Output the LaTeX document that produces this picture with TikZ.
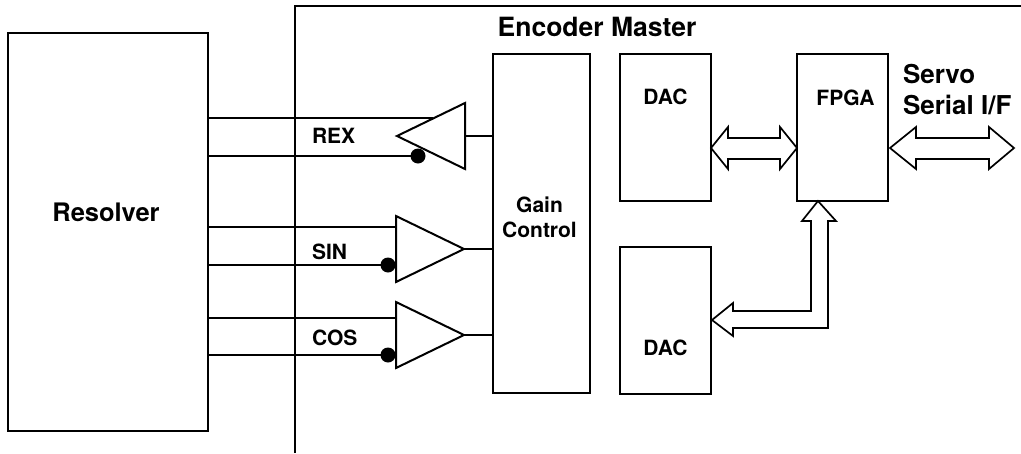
\documentclass[tikz,border=0pt]{standalone}
\usepackage{fontspec}
\setmainfont{TeX Gyre Heros}
\usetikzlibrary{
  calc,
  positioning,
  shapes.geometric,
}

\begin{document}
\begin{tikzpicture}[
    x = 1pt,
    y = -1pt,
    line width=2pt,
    n/.style={
      draw, minimum width=91pt, minimum height=147pt,
      inner sep=0pt, outer sep=0pt,
    },
    amp/.style={
      draw, isosceles triangle, isosceles triangle stretches,
      minimum width=66pt, minimum height=68pt,
      inner sep=0pt, outer sep=0pt,
    },
    d/.style={
      circle, fill, minimum size=15pt, inner sep=0pt, outer sep=0pt,
    },
    bus/.style={line width=1.7pt, line join=miter, fill=white},
    b/.style={font=\fontsize{21}{25}\selectfont\bfseries, inner sep=0pt},
    c/.style={font=\fontsize{26}{31}\selectfont\bfseries, inner sep=0pt,
      align=left},]
  \useasboundingbox (0,0) rectangle (1021,453);
  %%
  \node[n,minimum width=200pt,minimum height=398pt,anchor=north west]
  (Resolver) at (8,33) {};
  \node[n,anchor=north west] (DacA) at (620,54) {};
  \node[n,below=46pt of DacA] (DacB) {};
  \node[n,right=86pt of DacA] (Fpga) {};
  \node[n,left=30pt of DacA.north west,anchor=north east,
  minimum width=97pt,minimum height=339pt] (Gain) {};
  %%
  \node[b,font=\fontsize{25.5}{30}\selectfont\bfseries]
  (ResolverText) at ($(Resolver.north)+(-2,179)$) {Resolver};
  \node[b,align=center] (GainText) at ($(Gain.center)+(-2,-6)$)
  {Gain\\[0.5pt]Control};
  \node[b] (DacAText) at ($(DacA.north)+(0,43)$) {DAC};
  \node[b] (DacBText) at ($(DacB.north)+(0,101)$) {DAC};
  \node[b] (FpgaText) at ($(Fpga.north)+(3,44)$) {FPGA};
  \node[c,font=\fontsize{26.5}{31}\selectfont\bfseries]
  (EncoderText) at (597,27) {Encoder Master};
  \node[c,anchor=west] (ServoText) at (902,90) {Servo\\Serial I/F};
  %%
  \node[amp,shape border rotate=180,anchor=apex] (AmpRex) at (397,136) {};
  \node[amp,anchor=apex] (AmpSin) at (464,249) {};
  \node[amp,anchor=apex] (AmpCos) at (464,335) {};
  %%
  \node[b,anchor=west] (RexText) at (311,136) {REX};
  \node[b,anchor=west] (SinText) at (311,252) {SIN};
  \node[b,anchor=west] (CosText) at (311,338) {COS};
  %%
  \node[d] (DotRex) at (418,156) {};
  \node[d] (DotSin) at (388,265) {};
  \node[d] (DotCos) at (388,355) {};
  %%
  \coordinate (InRex) at (433,118);
  \coordinate (InSin) at (396,227);
  \coordinate (InCos) at (396,318);
  \draw (Resolver.east |- InRex) -- (InRex);
  \draw (Resolver.east |- DotRex) -- (DotRex);
  \draw (Resolver.east |- InSin) -- (InSin);
  \draw (Resolver.east |- DotSin) -- (DotSin);
  \draw (Resolver.east |- InCos) -- (InCos);
  \draw (Resolver.east |- DotCos) -- (DotCos);
  %%
  \draw (AmpRex.lower side) -- (Gain.west |- AmpRex.lower side);
  \draw (AmpSin.apex) -- (Gain.west |- AmpSin.apex);
  \draw (AmpCos.apex) -- (Gain.west |- AmpCos.apex);
  %%
  \coordinate (FrameA) at (295,453);
  \coordinate (FrameB) at (295,6);
  \coordinate (FrameC) at (1021,6);
  \draw (FrameA) -- (FrameB) -- (FrameC);
  %%
  \coordinate (BusA) at (711,148);
  \draw[bus] (DacA.east |- BusA)
  -- ++(17,-21) -- ++(0,11) -- ($(Fpga.west |- BusA)+(-17,-10)$)
  -- ++(0,-11) -- (Fpga.west |- BusA) -- ++(-17,21) -- ++(0,-10)
  -- ($(DacA.east |- BusA)+(17,11)$) -- ++(0,10) -- cycle;
  %%
  \coordinate (BusB) at (890,148);
  \coordinate (BusC) at (1014,148);
  \draw[bus] (BusB)
  -- ++(26,-21) -- ++(0,11) -- ($(BusC)+(-25,-10)$)
  -- ++(0,-11) -- (BusC) -- ++(-25,21) -- ++(0,-10)
  -- ($(BusB)+(26,11)$) -- ++(0,10) -- cycle;
  %%
  \coordinate (BusD) at (818,201);
  \coordinate (BusE) at (712,320);
  \draw[bus] (BusD)
  -- ++(18,20) -- ++(-8,0) -- ++(0,107) -- ++(-95,0) -- ++(0,8) -- (BusE)
  -- ++(21,-17) -- ++(0,8) -- ++(78,0) -- ++(0,-90) -- ++(-9,0) -- cycle;
\end{tikzpicture}
\end{document}
